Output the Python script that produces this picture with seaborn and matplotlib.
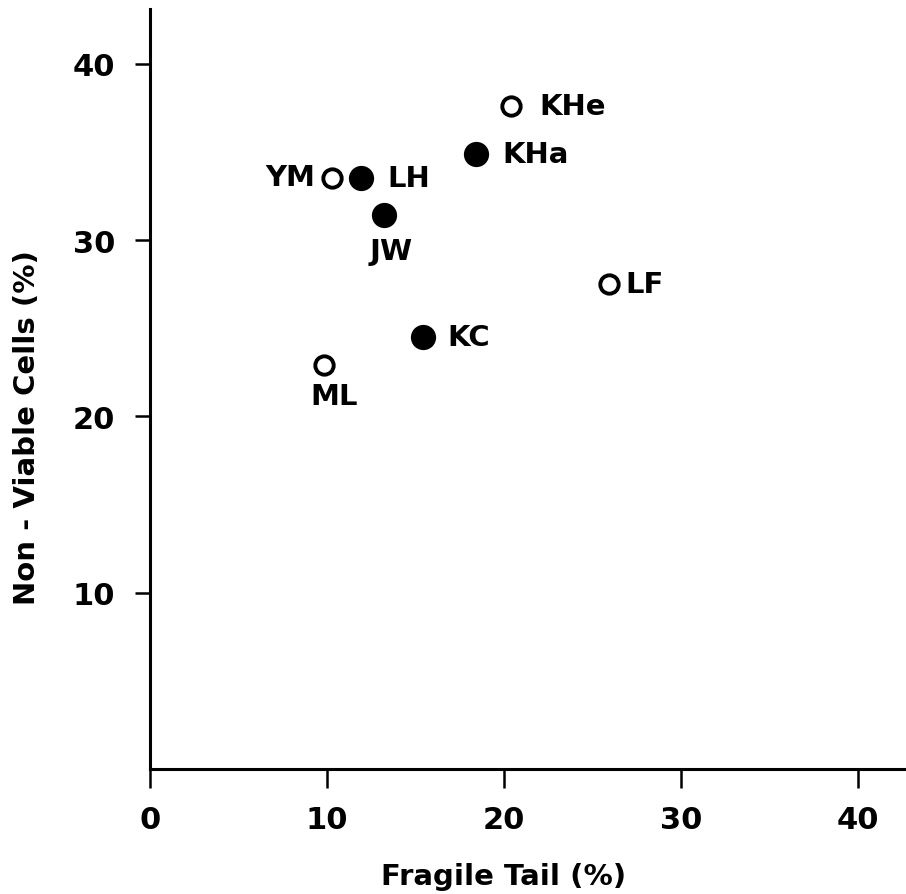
import matplotlib.pyplot as plt
import pandas as pd
import seaborn as sns

# values
names = ['KHe', 'KHa', 'YM', 'LH', 'JW', 'LF', 'KC', 'ML']
fragile_tail = [20.4, 18.4, 10.3, 11.9, 13.2, 25.9, 15.4, 9.8]
non_viable = [37.6, 34.9, 33.5, 33.5, 31.4, 27.5, 24.5, 22.9]
filled = [False, True, False, True, True, False, True, False]

x_ticks = [0, 10, 20, 30, 40]
y_ticks = [10, 20, 30, 40]

df = pd.DataFrame({'name': names, 'x': fragile_tail, 'y': non_viable, 'filled': filled})

sns.set_style('ticks', rc={'axes.edgecolor': 'black', 'xtick.color': 'black', 'ytick.color': 'black',
                           'text.color': 'black', 'axes.labelcolor': 'black'})
plt.rcParams['font.family'] = ['DejaVu Sans']
plt.rcParams['font.weight'] = 'bold'

fig = plt.figure(figsize=(9.06, 8.95), dpi=100)
ax = fig.add_axes([0.1656, 0.1397, 0.8333, 0.849])

sns.scatterplot(data=df[~df.filled], x='x', y='y', ax=ax, s=175,
                facecolor='white', edgecolor='black', linewidth=2.8, zorder=3)
sns.scatterplot(data=df[df.filled], x='x', y='y', ax=ax, s=330,
                color='black', edgecolor='black', linewidth=0, zorder=3)

# label offsets (points) and alignment
offsets = {
    'KHe': (20, 0, 'left', 'center'),
    'KHa': (19, 0, 'left', 'center'),
    'YM': (-12, 1, 'right', 'center'),
    'LH': (19, 0, 'left', 'center'),
    'JW': (5, -26, 'center', 'center'),
    'LF': (12, 0, 'left', 'center'),
    'KC': (18, 0, 'left', 'center'),
    'ML': (8, -22, 'center', 'center'),
}
for _, r in df.iterrows():
    dx, dy, ha, va = offsets[r['name']]
    ax.annotate(r['name'], (r['x'], r['y']), xytext=(dx, dy), textcoords='offset points',
                ha=ha, va=va, fontsize=21, fontweight='bold', color='black')

ax.set_xlim(0, 42.65)
ax.set_ylim(0, 43.1)
ax.set_xticks(x_ticks)
ax.set_yticks(y_ticks)
ax.tick_params(axis='x', length=14, width=1.8, pad=12, labelsize=22, direction='out')
ax.tick_params(axis='y', length=11, width=1.8, pad=14, labelsize=22, direction='out')

sns.despine(ax=ax)
for sp in ['left', 'bottom']:
    ax.spines[sp].set_linewidth(2.2)

ax.set_xlabel('Fragile Tail (%)', fontsize=21, fontweight='bold')
ax.set_ylabel('Non - Viable Cells (%)', fontsize=21, fontweight='bold')
ax.xaxis.set_label_coords(0.468, -0.122)
ax.yaxis.set_label_coords(-0.145, 0.451)

plt.savefig('out.png', dpi=100)
